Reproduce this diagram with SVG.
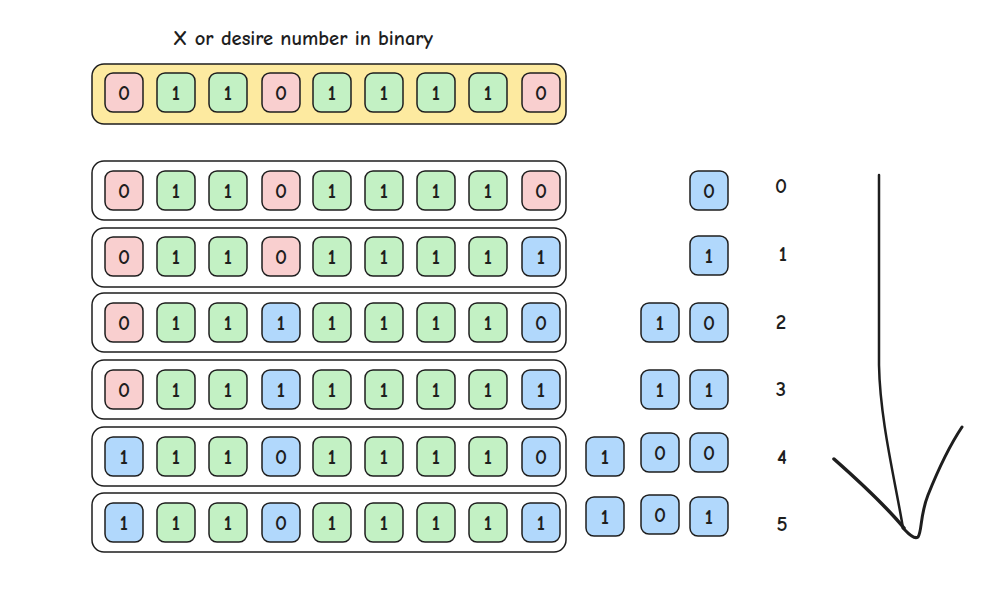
<svg xmlns="http://www.w3.org/2000/svg" width="1000" height="591" viewBox="0 0 1000 591">
<style>
.c{fill:#fff;stroke:#1e1e1e;stroke-width:1.5}
.y{fill:#fdeaa0;stroke:#1e1e1e;stroke-width:1.5}
.r{fill:#f9cfcf;stroke:#1e1e1e;stroke-width:1.5}
.g{fill:#c3f1c4;stroke:#1e1e1e;stroke-width:1.5}
.b{fill:#b1d8fc;stroke:#1e1e1e;stroke-width:1.5}
text{font-family:"Comic Neue","Liberation Sans",sans-serif;fill:#1e1e1e;text-anchor:middle;font-weight:bold}
.d{font-size:21px}
.l{font-size:21px}
.t{font-size:20px}
.ar{fill:none;stroke:#1e1e1e;stroke-linecap:round;stroke-linejoin:round}
</style>
<rect width="1000" height="591" fill="#fff"/>
<g id="title"><text class="t" x="303" y="45" textLength="260" lengthAdjust="spacingAndGlyphs">X or desire number in binary</text></g>

<g id="target">
<rect class="y" x="92" y="64" width="474" height="60" rx="12"/>
<rect class="r" x="105" y="73" width="38" height="39" rx="8"/><text class="d" x="124" y="100">0</text>
<rect class="g" x="157" y="73" width="38" height="39" rx="8"/><text class="d" x="176" y="100">1</text>
<rect class="g" x="209" y="73" width="38" height="39" rx="8"/><text class="d" x="228" y="100">1</text>
<rect class="r" x="262" y="73" width="38" height="39" rx="8"/><text class="d" x="281" y="100">0</text>
<rect class="g" x="313" y="73" width="38" height="39" rx="8"/><text class="d" x="332" y="100">1</text>
<rect class="g" x="365" y="73" width="38" height="39" rx="8"/><text class="d" x="384" y="100">1</text>
<rect class="g" x="417" y="73" width="38" height="39" rx="8"/><text class="d" x="436" y="100">1</text>
<rect class="g" x="469" y="73" width="38" height="39" rx="8"/><text class="d" x="488" y="100">1</text>
<rect class="r" x="522" y="73" width="38" height="39" rx="8"/><text class="d" x="541" y="100">0</text>
</g>

<g id="row0">
<rect class="c" x="92" y="161" width="474" height="59" rx="12"/>
<rect class="r" x="105" y="171" width="38" height="39" rx="8"/><text class="d" x="124" y="198">0</text>
<rect class="g" x="157" y="171" width="38" height="39" rx="8"/><text class="d" x="176" y="198">1</text>
<rect class="g" x="209" y="171" width="38" height="39" rx="8"/><text class="d" x="228" y="198">1</text>
<rect class="r" x="262" y="171" width="38" height="39" rx="8"/><text class="d" x="281" y="198">0</text>
<rect class="g" x="313" y="171" width="38" height="39" rx="8"/><text class="d" x="332" y="198">1</text>
<rect class="g" x="365" y="171" width="38" height="39" rx="8"/><text class="d" x="384" y="198">1</text>
<rect class="g" x="417" y="171" width="38" height="39" rx="8"/><text class="d" x="436" y="198">1</text>
<rect class="g" x="469" y="171" width="38" height="39" rx="8"/><text class="d" x="488" y="198">1</text>
<rect class="r" x="522" y="171" width="38" height="39" rx="8"/><text class="d" x="541" y="198">0</text>
</g>

<g id="row1">
<rect class="c" x="92" y="228" width="474" height="59" rx="12"/>
<rect class="r" x="105" y="237" width="38" height="39" rx="8"/><text class="d" x="124" y="264">0</text>
<rect class="g" x="157" y="237" width="38" height="39" rx="8"/><text class="d" x="176" y="264">1</text>
<rect class="g" x="209" y="237" width="38" height="39" rx="8"/><text class="d" x="228" y="264">1</text>
<rect class="r" x="262" y="237" width="38" height="39" rx="8"/><text class="d" x="281" y="264">0</text>
<rect class="g" x="313" y="237" width="38" height="39" rx="8"/><text class="d" x="332" y="264">1</text>
<rect class="g" x="365" y="237" width="38" height="39" rx="8"/><text class="d" x="384" y="264">1</text>
<rect class="g" x="417" y="237" width="38" height="39" rx="8"/><text class="d" x="436" y="264">1</text>
<rect class="g" x="469" y="237" width="38" height="39" rx="8"/><text class="d" x="488" y="264">1</text>
<rect class="b" x="522" y="237" width="38" height="39" rx="8"/><text class="d" x="541" y="264">1</text>
</g>

<g id="row2">
<rect class="c" x="92" y="293" width="474" height="59" rx="12"/>
<rect class="r" x="105" y="303" width="38" height="39" rx="8"/><text class="d" x="124" y="330">0</text>
<rect class="g" x="157" y="303" width="38" height="39" rx="8"/><text class="d" x="176" y="330">1</text>
<rect class="g" x="209" y="303" width="38" height="39" rx="8"/><text class="d" x="228" y="330">1</text>
<rect class="b" x="262" y="303" width="38" height="39" rx="8"/><text class="d" x="281" y="330">1</text>
<rect class="g" x="313" y="303" width="38" height="39" rx="8"/><text class="d" x="332" y="330">1</text>
<rect class="g" x="365" y="303" width="38" height="39" rx="8"/><text class="d" x="384" y="330">1</text>
<rect class="g" x="417" y="303" width="38" height="39" rx="8"/><text class="d" x="436" y="330">1</text>
<rect class="g" x="469" y="303" width="38" height="39" rx="8"/><text class="d" x="488" y="330">1</text>
<rect class="b" x="522" y="303" width="38" height="39" rx="8"/><text class="d" x="541" y="330">0</text>
</g>

<g id="row3">
<rect class="c" x="92" y="360" width="474" height="59" rx="12"/>
<rect class="r" x="105" y="370" width="38" height="39" rx="8"/><text class="d" x="124" y="397">0</text>
<rect class="g" x="157" y="370" width="38" height="39" rx="8"/><text class="d" x="176" y="397">1</text>
<rect class="g" x="209" y="370" width="38" height="39" rx="8"/><text class="d" x="228" y="397">1</text>
<rect class="b" x="262" y="370" width="38" height="39" rx="8"/><text class="d" x="281" y="397">1</text>
<rect class="g" x="313" y="370" width="38" height="39" rx="8"/><text class="d" x="332" y="397">1</text>
<rect class="g" x="365" y="370" width="38" height="39" rx="8"/><text class="d" x="384" y="397">1</text>
<rect class="g" x="417" y="370" width="38" height="39" rx="8"/><text class="d" x="436" y="397">1</text>
<rect class="g" x="469" y="370" width="38" height="39" rx="8"/><text class="d" x="488" y="397">1</text>
<rect class="b" x="522" y="370" width="38" height="39" rx="8"/><text class="d" x="541" y="397">1</text>
</g>

<g id="row4">
<rect class="c" x="92" y="427" width="474" height="59" rx="12"/>
<rect class="b" x="105" y="437" width="38" height="39" rx="8"/><text class="d" x="124" y="464">1</text>
<rect class="g" x="157" y="437" width="38" height="39" rx="8"/><text class="d" x="176" y="464">1</text>
<rect class="g" x="209" y="437" width="38" height="39" rx="8"/><text class="d" x="228" y="464">1</text>
<rect class="b" x="262" y="437" width="38" height="39" rx="8"/><text class="d" x="281" y="464">0</text>
<rect class="g" x="313" y="437" width="38" height="39" rx="8"/><text class="d" x="332" y="464">1</text>
<rect class="g" x="365" y="437" width="38" height="39" rx="8"/><text class="d" x="384" y="464">1</text>
<rect class="g" x="417" y="437" width="38" height="39" rx="8"/><text class="d" x="436" y="464">1</text>
<rect class="g" x="469" y="437" width="38" height="39" rx="8"/><text class="d" x="488" y="464">1</text>
<rect class="b" x="522" y="437" width="38" height="39" rx="8"/><text class="d" x="541" y="464">0</text>
</g>

<g id="row5">
<rect class="c" x="92" y="493" width="474" height="59" rx="12"/>
<rect class="b" x="105" y="503" width="38" height="39" rx="8"/><text class="d" x="124" y="530">1</text>
<rect class="g" x="157" y="503" width="38" height="39" rx="8"/><text class="d" x="176" y="530">1</text>
<rect class="g" x="209" y="503" width="38" height="39" rx="8"/><text class="d" x="228" y="530">1</text>
<rect class="b" x="262" y="503" width="38" height="39" rx="8"/><text class="d" x="281" y="530">0</text>
<rect class="g" x="313" y="503" width="38" height="39" rx="8"/><text class="d" x="332" y="530">1</text>
<rect class="g" x="365" y="503" width="38" height="39" rx="8"/><text class="d" x="384" y="530">1</text>
<rect class="g" x="417" y="503" width="38" height="39" rx="8"/><text class="d" x="436" y="530">1</text>
<rect class="g" x="469" y="503" width="38" height="39" rx="8"/><text class="d" x="488" y="530">1</text>
<rect class="b" x="522" y="503" width="38" height="39" rx="8"/><text class="d" x="541" y="530">1</text>
</g>

<g id="bits0"><rect class="b" x="690" y="171" width="38" height="39" rx="8"/><text class="d" x="709" y="198">0</text></g>
<g id="bits1"><rect class="b" x="690" y="236" width="38" height="39" rx="8"/><text class="d" x="709" y="263">1</text></g>
<g id="bits2">
<rect class="b" x="641" y="303" width="38" height="39" rx="8"/><text class="d" x="660" y="330">1</text>
<rect class="b" x="690" y="303" width="38" height="39" rx="8"/><text class="d" x="709" y="330">0</text>
</g>
<g id="bits3">
<rect class="b" x="641" y="370" width="38" height="39" rx="8"/><text class="d" x="660" y="397">1</text>
<rect class="b" x="690" y="370" width="38" height="39" rx="8"/><text class="d" x="709" y="397">1</text>
</g>
<g id="bits4">
<rect class="b" x="586" y="437" width="38" height="39" rx="8"/><text class="d" x="605" y="464">1</text>
<rect class="b" x="641" y="433" width="38" height="39" rx="8"/><text class="d" x="660" y="460">0</text>
<rect class="b" x="690" y="433" width="38" height="39" rx="8"/><text class="d" x="709" y="460">0</text>
</g>
<g id="bits5">
<rect class="b" x="586" y="497" width="38" height="39" rx="8"/><text class="d" x="605" y="524">1</text>
<rect class="b" x="641" y="495" width="38" height="39" rx="8"/><text class="d" x="660" y="522">0</text>
<rect class="b" x="690" y="497" width="38" height="39" rx="8"/><text class="d" x="709" y="524">1</text>
</g>

<g id="labels">
<text class="l" x="781" y="193">0</text>
<text class="l" x="783" y="261">1</text>
<text class="l" x="781" y="329">2</text>
<text class="l" x="781" y="396">3</text>
<text class="l" x="782" y="464">4</text>
<text class="l" x="782" y="531">5</text>
</g>

<g id="arrow">
<path class="ar" stroke-width="2.5" d="M879 175 L879 365 C880 420 895 480 903 528"/>
<path class="ar" stroke-width="3.5" d="M834 459 C860 482 885 505 904 528"/>
<path class="ar" stroke-width="3" d="M903 528 C908 533 914 540 918 537 C922 532 920 515 928 495 C938 470 950 445 962 427"/>
</g>
</svg>
